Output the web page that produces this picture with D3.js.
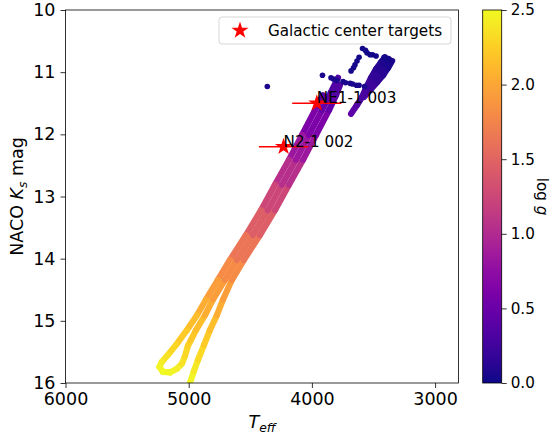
<!DOCTYPE html>
<html><head><meta charset="utf-8">
<script src="https://cdn.jsdelivr.net/npm/d3@7"></script>
<style>
body{margin:0;background:#fff;}
svg{display:block;font-family:"DejaVu Sans",sans-serif;}
</style></head><body>
<svg id="chart" width="551" height="433"></svg>
<script>
// Axis ticks
const teffTicks = [6000, 5000, 4000, 3000];
const ksTicks = [10, 11, 12, 13, 14, 15, 16];
const loggTicks = [0, 0.5, 1, 1.5, 2, 2.5];

// Isochrone tracks, each point: [Teff, Ks, log g]
const trackRight = [
  [5005,16.14,2.55],[4990,16.00,2.50],[4958,15.81,2.45],[4925,15.63,2.37],[4876,15.39,2.27],
  [4828,15.15,2.18],[4771,14.91,2.10],[4722,14.66,2.00],[4649,14.34,1.87],[4552,14.02,1.73],
  [4422,13.62,1.55],[4300,13.22,1.35],[4186,12.81,1.15],[4072,12.41,0.95],[3967,12.01,0.72],
  [3861,11.61,0.52],[3804,11.37,0.40],[3772,11.21,0.33]
];
const trackMiddle = [
  [5031,15.57,2.34],[5006,15.40,2.28],[4982,15.31,2.25],[4941,15.15,2.18],[4868,14.91,2.10],
  [4803,14.66,2.00],[4706,14.34,1.87],[4608,14.02,1.73],[4478,13.62,1.55],[4357,13.22,1.35],
  [4243,12.81,1.15],[4129,12.41,0.95],[4024,12.01,0.72],[3918,11.61,0.52],[3845,11.32,0.38],
  [3788,11.09,0.30]
];
const trackLeft = [
  [3910,11.37,0.40],[3975,11.61,0.52],[4080,12.01,0.72],[4186,12.41,0.95],[4300,12.81,1.15],
  [4413,13.22,1.35],[4535,13.62,1.55],[4665,14.02,1.73],[4763,14.34,1.87],[4860,14.66,2.00],
  [4933,14.91,2.10],[5015,15.15,2.18],[5104,15.39,2.27],[5169,15.55,2.33],[5218,15.66,2.40],
  [5238,15.74,2.45],[5210,15.82,2.50],[5153,15.83,2.50],[5096,15.77,2.46],[5055,15.69,2.40],
  [5031,15.57,2.34]
];
const trackCool = [
  [3682,11.67,0.45],[3634,11.53,0.40],[3593,11.40,0.34],[3560,11.25,0.28],[3520,11.09,0.21],
  [3479,10.95,0.14],[3439,10.84,0.09],[3406,10.76,0.05]
];
const trackTipA = [
  [3577,11.40,0.32],[3528,11.29,0.27],[3471,11.16,0.20],[3422,11.05,0.14],[3382,10.93,0.09],
  [3349,10.82,0.04]
];
const trackTipB = [
  [3536,11.22,0.25],[3487,11.09,0.19],[3447,10.98,0.13],[3406,10.87,0.08],[3374,10.79,0.04]
];
// Sparse late-phase models: [Teff, Ks, log g]
const agbPoints = [
  [4362,11.23,0.05],[3914,11.05,0.05],[3845,11.09,0.05],[3825,11.11,0.05],[3796,11.13,0.05],
  [3747,11.15,0.04],[3727,11.17,0.04],[3690,11.18,0.04],[3670,11.19,0.04],[3638,11.21,0.04],
  [3617,11.21,0.04],[3573,11.23,0.05],[3682,10.98,0.03],[3662,10.93,0.03],[3650,10.88,0.03],
  [3634,10.82,0.03],[3617,10.76,0.02],[3589,10.62,0.02],[3565,10.65,0.02],[3552,10.69,0.02],
  [3528,10.72,0.02],[3508,10.72,0.02],[3479,10.74,0.02],[3414,10.76,0.02],[3394,10.78,0.02],
  [3378,10.80,0.02]
];

// Galactic center targets
const targetNames = ["NE1-1 003", "N2-1 002"];
const targetTeff = [3960, 4230];
const targetKs = [11.5, 12.2];
const targetTeffErr = [200, 200];

const svg = d3.select("#chart");
const plot = {left: 65.5, right: 458.5, top: 10, bottom: 383};
const x = d3.scaleLinear().domain([6000, 2810]).range([plot.left, plot.right]);
const y = d3.scaleLinear().domain([10, 16]).range([plot.top, plot.bottom]);
const color = d3.scaleSequential(d3.interpolatePlasma).domain([0, 2.5]);

svg.append("clipPath").attr("id", "clip").append("rect")
  .attr("x", plot.left).attr("y", plot.top)
  .attr("width", plot.right - plot.left).attr("height", plot.bottom - plot.top);

const g = svg.append("g").attr("clip-path", "url(#clip)");

function drawTrack(track) {
  const segs = d3.pairs(track);
  g.append("g").selectAll("line").data(segs).join("line")
    .attr("x1", d => x(d[0][0])).attr("y1", d => y(d[0][1]))
    .attr("x2", d => x(d[1][0])).attr("y2", d => y(d[1][1]))
    .attr("stroke", d => color((d[0][2] + d[1][2]) / 2))
    .attr("stroke-width", 6.2)
    .attr("stroke-linecap", "round");
}
[trackLeft, trackMiddle, trackRight, trackCool, trackTipA, trackTipB].forEach(drawTrack);

g.append("g").selectAll("circle").data(agbPoints).join("circle")
  .attr("cx", d => x(d[0])).attr("cy", d => y(d[1])).attr("r", 2.8)
  .attr("fill", d => color(d[2]));

// Targets with Teff error bars
const star = d3.symbol().type(d3.symbolStar).size(92);
const targets = targetNames.map((n, i) => ({name: n, t: targetTeff[i], k: targetKs[i], e: targetTeffErr[i]}));
g.append("g").selectAll("line").data(targets).join("line")
  .attr("x1", d => x(d.t + d.e)).attr("x2", d => x(d.t - d.e))
  .attr("y1", d => y(d.k)).attr("y2", d => y(d.k))
  .attr("stroke", "#ff0000").attr("stroke-width", 1.6);
g.append("g").selectAll("path").data(targets).join("path")
  .attr("d", star).attr("fill", "#ff0000")
  .attr("transform", d => `translate(${x(d.t)},${y(d.k)})`);
svg.append("g").selectAll("text").data(targets).join("text")
  .attr("x", d => x(d.t)).attr("y", d => y(d.k))
  .attr("font-size", "15.2px").attr("fill", "#000")
  .text(d => d.name);

// Axes
const xAxis = d3.axisBottom(x).tickValues(teffTicks).tickSize(5).tickPadding(5).tickFormat(d3.format("d"));
const yAxis = d3.axisLeft(y).tickValues(ksTicks).tickSize(5).tickPadding(5).tickFormat(d3.format("d"));
const gx = svg.append("g").attr("transform", `translate(0,${plot.bottom})`).call(xAxis);
const gy = svg.append("g").attr("transform", `translate(${plot.left},0)`).call(yAxis);
[gx, gy].forEach(a => {
  a.select(".domain").remove();
  a.selectAll(".tick line").attr("stroke", "#000").attr("stroke-width", 0.8);
  a.selectAll(".tick text").attr("font-size", "17.5px").attr("fill", "#000")
    .attr("font-family", "DejaVu Sans");
});
svg.append("rect").attr("x", plot.left).attr("y", plot.top)
  .attr("width", plot.right - plot.left).attr("height", plot.bottom - plot.top)
  .attr("fill", "none").attr("stroke", "#000").attr("stroke-width", 0.8);

// Axis labels
const xl = svg.append("text").attr("x", (plot.left + plot.right) / 2).attr("y", 428)
  .attr("text-anchor", "middle").attr("font-size", "17.5px");
xl.append("tspan").attr("font-style", "italic").text("T");
xl.append("tspan").attr("font-style", "italic").attr("font-size", "12.3px").attr("dy", 3.5).text("eff");

const yl = svg.append("text").attr("transform", `translate(23,${(plot.top + plot.bottom) / 2}) rotate(-90)`)
  .attr("text-anchor", "middle").attr("font-size", "17.5px");
yl.append("tspan").text("NACO ");
yl.append("tspan").attr("font-style", "italic").text("K");
yl.append("tspan").attr("font-size", "12.3px").attr("font-style", "italic").attr("dy", 3.5).text("s");
yl.append("tspan").attr("dy", -3.5).text(" mag");

// Legend
const lg = svg.append("g");
lg.append("rect").attr("x", 219).attr("y", 17).attr("width", 232).attr("height", 27)
  .attr("rx", 3).attr("fill", "#fff").attr("fill-opacity", 0.8)
  .attr("stroke", "#cccccc").attr("stroke-width", 0.8);
lg.append("path").attr("d", star).attr("fill", "#ff0000").attr("transform", "translate(240,30.5)");
lg.append("text").attr("x", 268).attr("y", 35.5).attr("font-size", "15.2px").text("Galactic center targets");

// Colorbar
const cb = {x: 482.7, w: 19};
const cy = d3.scaleLinear().domain([0, 2.5]).range([plot.bottom, plot.top]);
const grad = svg.append("defs").append("linearGradient").attr("id", "cbgrad")
  .attr("x1", 0).attr("y1", 1).attr("x2", 0).attr("y2", 0);
d3.range(0, 1.0001, 0.05).forEach(t => {
  grad.append("stop").attr("offset", t).attr("stop-color", d3.interpolatePlasma(t));
});
svg.append("rect").attr("x", cb.x).attr("y", plot.top).attr("width", cb.w)
  .attr("height", plot.bottom - plot.top).attr("fill", "url(#cbgrad)")
  .attr("stroke", "#000").attr("stroke-width", 0.8);
const cAxis = d3.axisRight(cy).tickValues(loggTicks).tickSize(5).tickPadding(4).tickFormat(d3.format(".1f"));
const gc = svg.append("g").attr("transform", `translate(${cb.x + cb.w},0)`).call(cAxis);
gc.select(".domain").remove();
gc.selectAll(".tick line").attr("stroke", "#000").attr("stroke-width", 0.8);
gc.selectAll(".tick text").attr("font-size", "15.2px").attr("fill", "#000").attr("font-family", "DejaVu Sans");

const cl = svg.append("text").attr("transform", `translate(537,${(plot.top + plot.bottom) / 2}) rotate(90)`)
  .attr("text-anchor", "middle").attr("font-size", "15.2px");
cl.append("tspan").text("log ");
cl.append("tspan").attr("font-style", "italic").text("g");
</script>
</body></html>
